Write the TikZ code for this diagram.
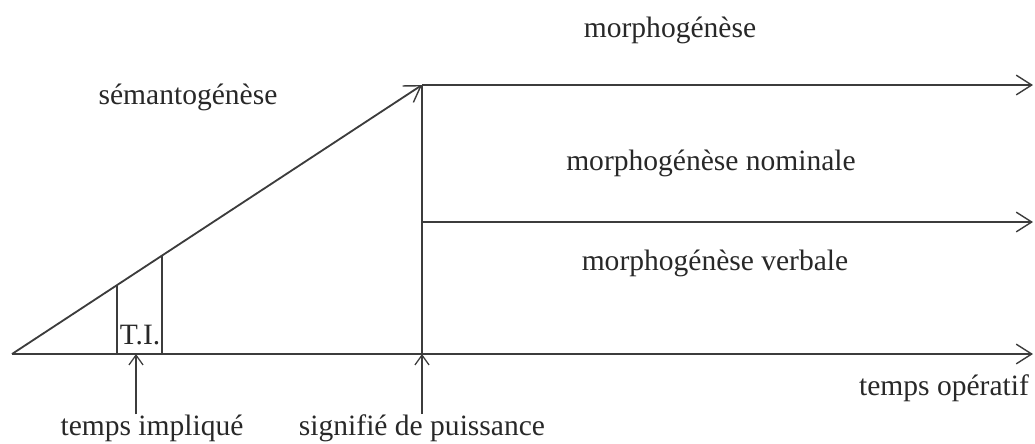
\documentclass[tikz,border=0pt]{standalone}
\usepackage{fontspec}
\setmainfont{Liberation Serif}
\usetikzlibrary{arrows.meta}
\definecolor{linegray}{RGB}{60,60,60}
\definecolor{textgray}{RGB}{40,40,40}
\tikzset{
  axisline/.style={linegray, line width=1.3pt},
  bigarrow/.style={axisline, -{Straight Barb[length=11pt,width=14pt,line width=1pt]}},
  smallarrow/.style={linegray, line width=1pt, -{Straight Barb[length=7pt,width=10pt,line width=0.9pt]}},
  tilabel/.style={textgray, font=\fontsize{21}{25}\selectfont, inner sep=0pt},
}
\begin{document}
\begin{tikzpicture}[x=0.025cm,y=-0.025cm]
\useasboundingbox (0,0) rectangle (1035,443);
% main points
\coordinate (O) at (12,354);
\coordinate (P) at (422,354);
\coordinate (S) at (422,85);
\coordinate (M) at (422,222);
\coordinate (E0) at (1033,354);
\coordinate (E1) at (1033,85);
\coordinate (E2) at (1033,222);
\coordinate (A) at (117,354);
\coordinate (A') at (117,285);
\coordinate (B) at (162,354);
\coordinate (B') at (162,255.5);
\coordinate (T) at (136,354);

% axes
\draw[bigarrow] (O) -- (E0);
\draw[bigarrow] (O) -- (S);
\draw[axisline] (P) -- (S);
\draw[bigarrow] (S) -- (E1);
\draw[bigarrow] (M) -- (E2);
% temps implique strip
\draw[axisline, line width=1pt] (A) -- (A');
\draw[axisline, line width=1pt] (B) -- (B');

% labels
\node[tilabel] (ti) at (140,335) {T.I.};
\node[tilabel] (morph) at (670,30) {morphogénèse};
\node[tilabel] (sem) at (188,97) {sémantogénèse};
\node[tilabel] (nom) at (711,163) {morphogénèse nominale};
\node[tilabel] (verb) at (715,263) {morphogénèse verbale};
\node[tilabel] (op) at (944,388) {temps opératif};
\node[tilabel] (impl) at (152,428) {temps impliqué};
\node[tilabel] (puis) at (422,428) {signifié de puissance};

\draw[smallarrow] (impl.north -| T) -- (T);
\draw[smallarrow] (puis.north) -- (P);
\end{tikzpicture}
\end{document}
